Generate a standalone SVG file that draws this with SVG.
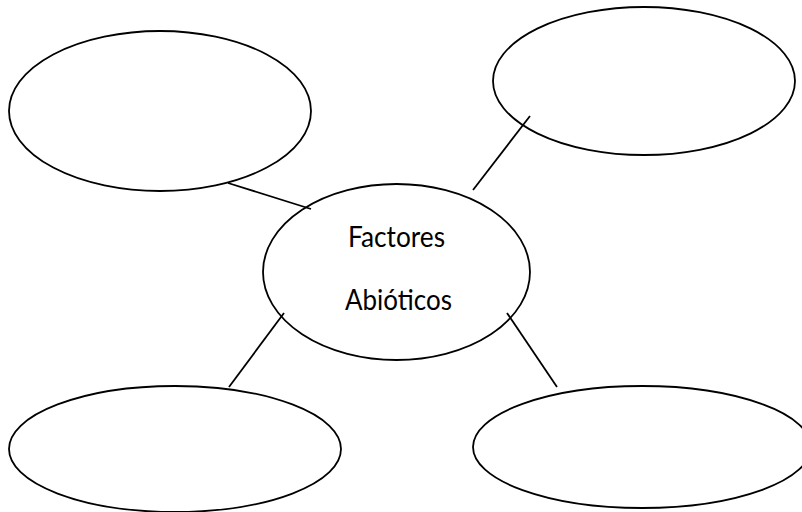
<svg xmlns="http://www.w3.org/2000/svg" width="802" height="512" viewBox="0 0 802 512">
<style>
.n{fill:none;stroke:#000;stroke-width:1.8}
.c line{stroke:#000;stroke-width:1.8}
.t{font-family:Lato,"Open Sans","Liberation Sans",sans-serif;font-size:29px;fill:#000;text-anchor:middle}
</style>
<rect width="802" height="512" fill="#fff"/>
<g id="node-top-left"><ellipse class="n" cx="160" cy="111" rx="151" ry="80"/></g>
<g id="node-top-right"><ellipse class="n" cx="644" cy="81" rx="151" ry="74"/></g>
<g id="node-bottom-left"><ellipse class="n" cx="175" cy="449" rx="166" ry="63"/></g>
<g id="node-bottom-right"><ellipse class="n" cx="642" cy="447" rx="169" ry="61"/></g>
<g id="node-center">
<ellipse class="n" cx="396.5" cy="272" rx="133.5" ry="88"/>
<text class="t" x="396.5" y="246.5" textLength="97" lengthAdjust="spacingAndGlyphs">Factores</text>
<text class="t" x="398.5" y="310" textLength="107" lengthAdjust="spacingAndGlyphs">Abióticos</text>
</g>
<g id="connectors" class="c">
<line x1="228" y1="183" x2="311" y2="209"/>
<line x1="530" y1="116" x2="473" y2="190"/>
<line x1="284" y1="313" x2="229" y2="387"/>
<line x1="507" y1="313" x2="557" y2="387"/>
</g>
</svg>
